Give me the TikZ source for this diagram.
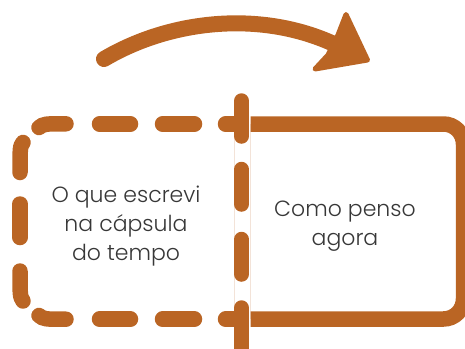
\documentclass[tikz,border=0pt]{standalone}
\usepackage{fontspec}
\setmainfont{Poppins}[UprightFont=* Light]
\definecolor{rust}{RGB}{186,101,36}
\definecolor{txt}{RGB}{55,55,55}
\begin{document}
\begin{tikzpicture}[x=1pt,y=-1pt,
  dashseg/.style={draw=rust,line width=15.5pt,line cap=round},
  solidbox/.style={draw=rust,line width=15.5pt,line cap=butt,rounded corners=20pt},
  guide/.style={draw=rust!18,line width=0.6pt},
  label/.style={text=txt,font=\fontsize{22}{29}\selectfont,align=center,inner sep=0pt},
  bigarrow/.style={draw=rust,line width=16pt,line cap=round}]
\useasboundingbox (0,0) rectangle (465,348);
\clip (0,0) rectangle (465,348);
% faint guide lines
\draw[guide] (234.3,124) -- (234.3,319);
\draw[guide] (250.7,124) -- (250.7,319);
% solid box (right)
\draw[solidbox] (250.5,124) -- (463.5,124) -- (463.5,319) -- (250.5,319);
% dashed box (left)
\draw[dashseg] (39,127.5) .. controls (44,123.8) .. (66,123.8);
\draw[dashseg] (99.5,124) -- (130.5,124);
\draw[dashseg] (162.5,124) -- (194.5,124);
\draw[dashseg] (225.5,124) -- (240,124);
\draw[dashseg] (39,315.5) .. controls (44,319.2) .. (66,319.2);
\draw[dashseg] (99.5,319.2) -- (130.5,319.2);
\draw[dashseg] (162.5,319.2) -- (194.5,319.2);
\draw[dashseg] (225.5,319.2) -- (240,319.2);
\draw[dashseg] (23,142.5) .. controls (20,147) .. (20,172.5);
\draw[dashseg] (20,204) -- (20,237.5);
\draw[dashseg] (20,271) .. controls (20,296) .. (23,301);
% vertical dashed divider
\draw[dashseg] (241.5,101) -- (241.5,136);
\draw[dashseg] (241.5,169.5) -- (241.5,204);
\draw[dashseg] (241.5,239.5) -- (241.5,274);
\draw[dashseg] (241.5,308) -- (241.5,360);
% curved arrow
\coordinate (tail) at (104,59);
\coordinate (neck) at (334,44);
\draw[bigarrow] (tail) .. controls (170,20) and (260,10) .. (neck);
\fill[rust,draw=rust,line width=5pt,line join=round]
  (346,14.5) -- (367.5,60) -- (315,69) -- (328,55) -- (338,35) -- cycle;
% texts
\node[label] (past) at (126,226) {O que escrevi\\na cápsula\\do tempo};
\node[label] (now) at (345,226) {Como penso\\agora};
\end{tikzpicture}
\end{document}
